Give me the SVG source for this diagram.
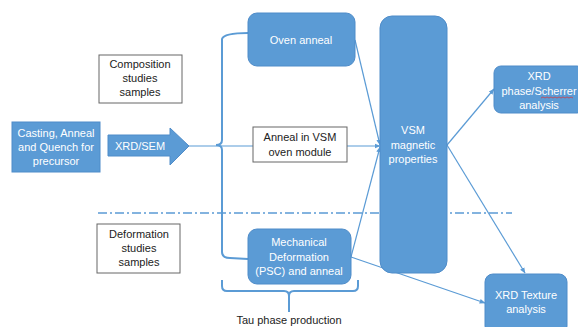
<svg xmlns="http://www.w3.org/2000/svg" width="578" height="327" viewBox="0 0 578 327">
<style>
.n{fill:#5B9BD5;stroke:#4F8CC9;stroke-width:1}
.w{fill:#fff;font-family:"Liberation Sans",Arial,sans-serif;font-size:11px;text-anchor:middle}
.k{fill:#222;font-family:"Liberation Sans",Arial,sans-serif;font-size:11px;text-anchor:middle}
.b{fill:#fff;stroke:#666;stroke-width:1}
.c{fill:none;stroke:#5B9BD5;stroke-width:1.2}
.br{fill:none;stroke:#5B9BD5;stroke-width:2}
</style>
<defs>
<marker id="ah" viewBox="0 0 10 10" refX="9" refY="5" markerWidth="6" markerHeight="6" orient="auto" markerUnits="userSpaceOnUse">
<path d="M0,1 L10,5 L0,9 z" fill="#5B9BD5"/>
</marker>
</defs>
<rect width="578" height="327" fill="#fff"/>
<g id="connectors">
<line x1="98" y1="213" x2="512" y2="213" stroke="#5B9BD5" stroke-width="1.5" stroke-dasharray="9,3,2,3"/>
<path class="br" d="M248,33 Q224,33 222,39 L222,140 Q222,145 216,145 Q222,145 222,150 L222,252 Q222,258 230,258 L248,259"/>
<path class="br" d="M222,280 L222,286 Q222,291 227,291 L284,291 Q289,291 289,296 L289,312 M289,296 Q289,291 294,291 L353,291 Q358,291 358,286 L358,280"/>
<line class="c" x1="189" y1="146" x2="380" y2="146" stroke-width="1.5" marker-end="url(#ah)"/>
<line class="c" x1="355" y1="40" x2="380" y2="145" marker-end="url(#ah)"/>
<line class="c" x1="351" y1="257" x2="380" y2="147" marker-end="url(#ah)"/>
<line class="c" x1="351" y1="257" x2="485" y2="303" marker-end="url(#ah)"/>
<line class="c" x1="447" y1="145" x2="494" y2="89" marker-end="url(#ah)"/>
<line class="c" x1="447" y1="145" x2="525" y2="273" marker-end="url(#ah)"/>
</g>
<g id="casting">
<rect class="n" x="12" y="122" width="88" height="50"/>
<text class="w" x="56" y="137">Casting, Anneal</text>
<text class="w" x="56" y="151">and Quench for</text>
<text class="w" x="56" y="165">precursor</text>
</g>
<g id="xrdsem">
<polygon class="n" points="108,135 170,135 170,128 189,146 170,165 170,156 108,156"/>
<text class="w" x="140" y="150">XRD/SEM</text>
</g>
<g id="composition">
<rect class="b" x="99" y="55" width="83" height="48"/>
<text class="k" x="140" y="68">Composition</text>
<text class="k" x="140" y="82">studies</text>
<text class="k" x="140" y="96">samples</text>
</g>
<g id="deformation">
<rect class="b" x="97" y="224" width="83" height="49"/>
<text class="k" x="139" y="238">Deformation</text>
<text class="k" x="139" y="252">studies</text>
<text class="k" x="139" y="266">samples</text>
</g>
<g id="oven">
<rect class="n" x="248" y="13" width="107" height="53" rx="9"/>
<text class="w" x="301" y="44">Oven anneal</text>
</g>
<g id="annealvsm">
<rect class="b" x="253" y="127" width="94" height="35"/>
<text class="k" x="300" y="141">Anneal in VSM</text>
<text class="k" x="300" y="156">oven module</text>
</g>
<g id="mech">
<rect class="n" x="248" y="229" width="103" height="55" rx="9"/>
<text class="w" x="299" y="246">Mechanical</text>
<text class="w" x="299" y="261">Deformation</text>
<text class="w" x="299" y="275">(PSC) and anneal</text>
</g>
<g id="vsm">
<rect class="n" x="380" y="16" width="67" height="257" rx="12"/>
<text class="w" x="413" y="134">VSM</text>
<text class="w" x="413" y="149">magnetic</text>
<text class="w" x="413" y="163">properties</text>
</g>
<g id="xrdphase">
<rect class="n" x="494" y="66" width="90" height="47" rx="7"/>
<text class="w" x="539" y="80">XRD</text>
<text class="w" x="539" y="95">phase/Scherrer</text>
<text class="w" x="539" y="109">analysis</text>
<path d="M541,98 l2,-1 2,1 2,-1 2,1 2,-1 2,1 2,-1 2,1 2,-1 2,1 2,-1 2,1 2,-1 2,1 2,-1 2,1" fill="none" stroke="#d33" stroke-width="0.7"/>
</g>
<g id="xrdtexture">
<rect class="n" x="485" y="274" width="82" height="60" rx="8"/>
<text class="w" x="526" y="299">XRD Texture</text>
<text class="w" x="526" y="313">analysis</text>
</g>
<g id="tau">
<text class="k" x="289" y="324">Tau phase production</text>
</g>
</svg>
